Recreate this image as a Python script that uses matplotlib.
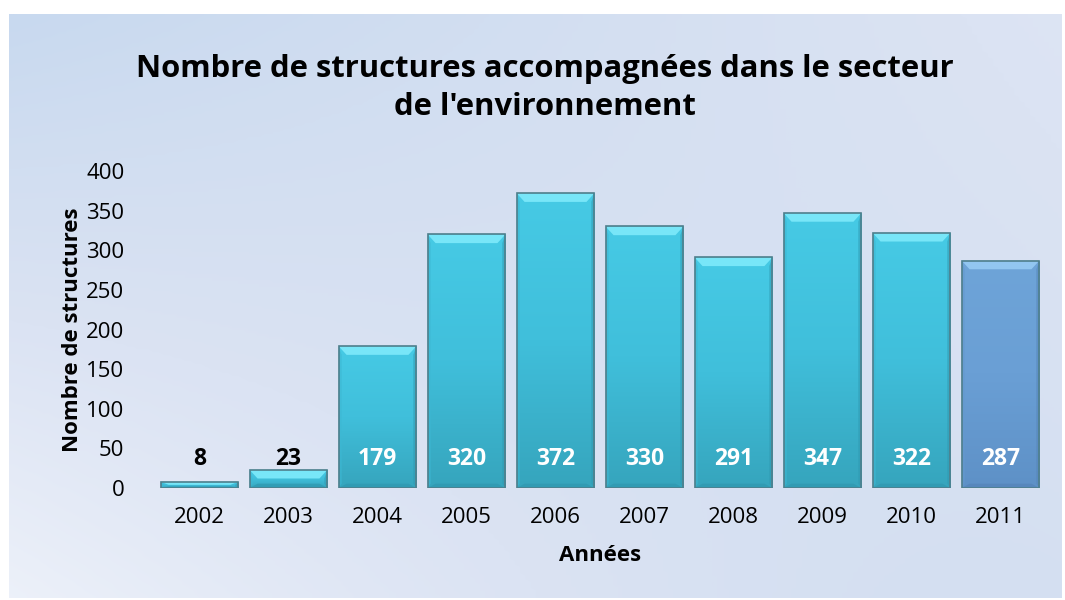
import numpy as np
import matplotlib
matplotlib.use("Agg")
import matplotlib.pyplot as plt
from matplotlib.patches import Polygon
from matplotlib.colors import LinearSegmentedColormap

# data
annees = ['2002', '2003', '2004', '2005', '2006', '2007', '2008', '2009', '2010', '2011']
structures = [8, 23, 179, 320, 372, 330, 291, 347, 322, 287]
yticks = [0, 50, 100, 150, 200, 250, 300, 350, 400]

plt.rcParams['font.family'] = ['Open Sans', 'DejaVu Sans']

W, H = 1065, 600
fig = plt.figure(figsize=(W / 100, H / 100), dpi=100)
fig.patch.set_facecolor('white')

# gradient background of the chart area
bg = fig.add_axes([9 / W, 2 / H, 1053 / W, 584 / H])
bg.axis('off')
yy, xx = np.mgrid[0:1:200j, 0:1:200j]   # yy: 0 at top
light = 0.95 * yy * (1 - xx) ** 1.5 + 0.55 * xx * (1 - 0.4 * yy)
bg_cmap = LinearSegmentedColormap.from_list('bg', ['#c8d9ef', '#dbe3f3', '#eef2fa'])
bg.imshow(np.clip(light, 0, 1), cmap=bg_cmap, aspect='auto', extent=[0, 1, 0, 1],
          origin='upper', vmin=0, vmax=1, interpolation='bilinear')
bg.set_xlim(0, 1)
bg.set_ylim(0, 1)

# main axes: y=0 at px 488, y=400 at px 171
ax = fig.add_axes([155 / W, (H - 488) / H, 890 / W, 317 / H])
ax.set_facecolor('none')
x = np.arange(len(annees))
ax.set_xlim(-0.5, len(annees) - 0.5)
ax.set_ylim(0, 400)

cyan = LinearSegmentedColormap.from_list('cy', ['#36a5bd', '#40bfdb', '#46cae5'])
blue = LinearSegmentedColormap.from_list('bl', ['#5e91c7', '#6a9fd5', '#6ea4d8'])

bw = 0.875
bars = ax.bar(x, structures, width=bw, color='none', edgecolor='#4f7f8c',
              linewidth=1.2, zorder=3)
grad = np.linspace(0, 1, 100).reshape(-1, 1)
dx = 0.09
dy = 11
last = len(annees) - 1
for i, (b, v) in enumerate(zip(bars, structures)):
    cm = blue if i == last else cyan
    x0 = b.get_x()
    x1 = x0 + b.get_width()
    im = ax.imshow(grad, cmap=cm, aspect='auto', extent=[x0, x1, 0, v],
                   origin='lower', zorder=2, interpolation='bilinear')
    im.set_clip_path(b)
    d = min(dy, v / 2)
    top = '#92c6f0' if i == last else '#78e6f8'
    side = '#6499cf' if i == last else '#3db8d3'
    bot = '#5584b8' if i == last else '#2f98b0'
    ax.add_patch(Polygon([(x0, v), (x1, v), (x1 - dx, v - d), (x0 + dx, v - d)],
                         closed=True, facecolor=top, edgecolor='none', zorder=2.5))
    ax.add_patch(Polygon([(x0, 0), (x1, 0), (x1 - dx, d * 0.5), (x0 + dx, d * 0.5)],
                         closed=True, facecolor=bot, edgecolor='none', zorder=2.5, alpha=0.7))
    ax.add_patch(Polygon([(x1, 0), (x1, v), (x1 - dx * 0.4, v - d), (x1 - dx * 0.4, d * 0.5)],
                         closed=True, facecolor=bot, edgecolor='none', zorder=2.5, alpha=0.5))
    ax.add_patch(Polygon([(x0, 0), (x0, v), (x0 + dx * 0.4, v - d), (x0 + dx * 0.4, d * 0.5)],
                         closed=True, facecolor=side, edgecolor='none', zorder=2.5, alpha=0.6))
    col = 'black' if v < 40 else 'white'
    ax.text(b.get_x() + b.get_width() / 2, 36, str(v), ha='center', va='center',
            fontsize=16.5, fontweight='bold', color=col, zorder=4)

for s in ax.spines.values():
    s.set_visible(False)
ax.set_xticks(x)
ax.set_xticklabels(annees, fontsize=16)
ax.set_yticks(yticks)
ax.set_yticklabels([str(v) for v in yticks], fontsize=16)
ax.tick_params(length=0)
ax.tick_params(axis='y', pad=22)
ax.tick_params(axis='x', pad=14)
ax.set_xlabel('Années', fontsize=16, fontweight='bold', labelpad=12)
ax.set_ylabel('Nombre de structures', fontsize=16, fontweight='bold', labelpad=2)

fig.text(545 / W, 1 - 88 / H,
         "Nombre de structures accompagnées dans le secteur\nde l'environnement",
         ha='center', va='center', fontsize=22.3, fontweight='bold', linespacing=1.35)

fig.savefig('out.png', dpi=100)
